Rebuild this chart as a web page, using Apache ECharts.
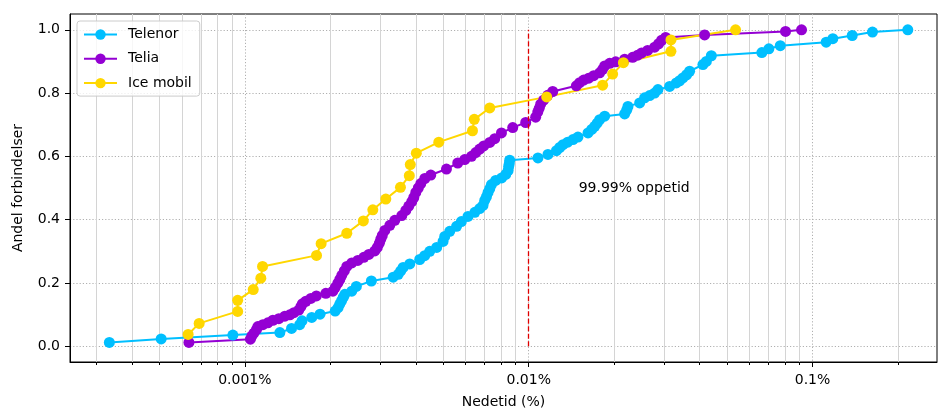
<!DOCTYPE html>
<html>
<head>
<meta charset="utf-8">
<script src="https://cdn.jsdelivr.net/npm/echarts@6/dist/echarts.min.js"></script>
<style>
  html, body { margin: 0; padding: 0; background: #fff; }
  #chart { width: 938px; height: 408px; }
</style>
</head>
<body>
<div id="chart"></div>
<script>
// Downtime (% of time) per connection and cumulative share of connections
const telenorDowntime = [0.000333, 0.000507, 0.000907, 0.001328, 0.00146, 0.00156, 0.00159, 0.00172, 0.00184, 0.00208,
  0.00213, 0.00216, 0.00219, 0.00222, 0.00225, 0.00238, 0.00247, 0.00279, 0.00333, 0.00347,
  0.00354, 0.00361, 0.00381, 0.00413, 0.0043, 0.00448, 0.00474, 0.00499, 0.00506, 0.00527,
  0.00557, 0.00579, 0.00611, 0.00646, 0.00672, 0.0069, 0.007, 0.0071, 0.00719, 0.00729,
  0.00739, 0.00765, 0.00803, 0.0083, 0.00846, 0.0085, 0.00854, 0.00857, 0.01078, 0.01169,
  0.01252, 0.01286, 0.01321, 0.01372, 0.01432, 0.01491, 0.01618, 0.01667, 0.01708, 0.01743,
  0.01778, 0.01852, 0.02178, 0.02214, 0.02237, 0.0246, 0.02561, 0.02667, 0.02778, 0.02853,
  0.03137, 0.03312, 0.03402, 0.03494, 0.036, 0.03689, 0.0411, 0.04225, 0.044, 0.06629,
  0.07017, 0.07697, 0.1117, 0.1179, 0.138, 0.1626, 0.2166];
const telenorShare = [0.012, 0.023, 0.035, 0.043, 0.056, 0.068, 0.080, 0.091, 0.101, 0.111,
  0.122, 0.133, 0.143, 0.154, 0.164, 0.174, 0.189, 0.206, 0.218, 0.227,
  0.238, 0.249, 0.260, 0.274, 0.286, 0.300, 0.312, 0.331, 0.347, 0.363,
  0.379, 0.394, 0.410, 0.423, 0.435, 0.445, 0.461, 0.473, 0.486, 0.498,
  0.511, 0.524, 0.532, 0.543, 0.555, 0.568, 0.577, 0.588, 0.595, 0.606,
  0.618, 0.628, 0.637, 0.645, 0.653, 0.661, 0.674, 0.685, 0.695, 0.705,
  0.716, 0.727, 0.734, 0.746, 0.758, 0.769, 0.785, 0.792, 0.800, 0.811,
  0.821, 0.832, 0.839, 0.848, 0.858, 0.869, 0.890, 0.900, 0.918, 0.928,
  0.940, 0.950, 0.961, 0.972, 0.982, 0.993, 1.0];

const teliaDowntime = [0.000635, 0.001046, 0.001058, 0.001076, 0.001098, 0.001111, 0.001157, 0.001205, 0.001255, 0.001317,
  0.001383, 0.00144, 0.001488, 0.001549, 0.001575, 0.001594, 0.00164, 0.001708, 0.001786, 0.001929,
  0.002042, 0.002083, 0.002126, 0.00216, 0.002195, 0.00224, 0.002286, 0.002381, 0.0025, 0.002624,
  0.002733, 0.002869, 0.002928, 0.002976, 0.003012, 0.003049, 0.003112, 0.003241, 0.003375, 0.003571,
  0.003689, 0.00378, 0.003873, 0.003937, 0.004001, 0.004083, 0.004167, 0.004304, 0.004518, 0.005131,
  0.005623, 0.00595, 0.006285, 0.006508, 0.006722, 0.006944, 0.00729, 0.007592, 0.008015, 0.008784,
  0.009759, 0.01058, 0.01076, 0.01089, 0.01102, 0.01129, 0.01167, 0.01215, 0.01472, 0.01512,
  0.01562, 0.01627, 0.01694, 0.01778, 0.01822, 0.01852, 0.01929, 0.02025, 0.02178, 0.02324,
  0.0242, 0.025, 0.02624, 0.02778, 0.02869, 0.0294, 0.03037, 0.04167, 0.08034, 0.09147];
const teliaShare = [0.012, 0.022, 0.032, 0.041, 0.052, 0.062, 0.068, 0.074, 0.082, 0.087,
  0.095, 0.099, 0.106, 0.114, 0.125, 0.134, 0.142, 0.151, 0.159, 0.167,
  0.174, 0.186, 0.199, 0.211, 0.224, 0.238, 0.252, 0.263, 0.271, 0.281,
  0.290, 0.301, 0.312, 0.325, 0.338, 0.350, 0.366, 0.382, 0.398, 0.413,
  0.429, 0.443, 0.457, 0.470, 0.486, 0.500, 0.514, 0.530, 0.541, 0.560,
  0.579, 0.590, 0.600, 0.612, 0.623, 0.633, 0.644, 0.656, 0.674, 0.691,
  0.707, 0.724, 0.740, 0.752, 0.765, 0.778, 0.793, 0.805, 0.823, 0.833,
  0.841, 0.847, 0.855, 0.864, 0.875, 0.886, 0.894, 0.899, 0.907, 0.913,
  0.920, 0.927, 0.935, 0.945, 0.956, 0.967, 0.976, 0.984, 0.995, 1.0];

const iceDowntime = [0.000631, 0.00069, 0.000943, 0.000943, 0.00107, 0.001138, 0.001154, 0.001788, 0.001856, 0.002286,
  0.002614, 0.002823, 0.003137, 0.003533, 0.003796, 0.003826, 0.004018, 0.004822, 0.006337, 0.00643,
  0.00729, 0.01157, 0.01822, 0.01976, 0.02156, 0.0317, 0.0317, 0.05356];
const iceShare = [0.037, 0.072, 0.110, 0.145, 0.179, 0.215, 0.252, 0.287, 0.324, 0.357,
  0.396, 0.431, 0.465, 0.502, 0.539, 0.574, 0.610, 0.645, 0.681, 0.717,
  0.753, 0.788, 0.825, 0.860, 0.896, 0.932, 0.968, 1.0];

const seriesNames = ['Telenor', 'Telia', 'Ice mobil'];
const seriesColors = ['#00BFFF', '#9400D3', '#FFD700'];

// Axis ticks
const xTickValues = [0.001, 0.01, 0.1];
const xTickLabels = ['0.001%', '0.01%', '0.1%'];
const yTickValues = [0, 0.2, 0.4, 0.6, 0.8, 1.0];
const xRange = [0.000242, 0.2745];
const yRange = [-0.05, 1.05];

// Reference line: 99.99 % uptime = 0.01 % downtime
const thresholdDowntime = 0.01;
const thresholdLabel = '99.99% oppetid';
const thresholdLabelPos = [0.015, 0.5];

const lg = Math.log10;

// minor ticks at 2..9 times each decade inside the range
const xMinorValues = [];
for (let e = -4; e <= 0; e++) {
  for (let m = 2; m <= 9; m++) {
    const v = m * Math.pow(10, e);
    if (v > xRange[0] && v < xRange[1]) xMinorValues.push(lg(v));
  }
}

function pairs(xs, ys) {
  return xs.map((v, i) => [lg(v), ys[i]]);
}

const FONT = 'DejaVu Sans';
const chart = echarts.init(document.getElementById('chart'), null, { renderer: 'canvas' });

const lineSeries = [
  [telenorDowntime, telenorShare],
  [teliaDowntime, teliaShare],
  [iceDowntime, iceShare]
].map((d, i) => ({
  name: seriesNames[i],
  type: 'line',
  xAxisIndex: 0,
  yAxisIndex: 0,
  data: pairs(d[0], d[1]),
  symbol: 'circle',
  symbolSize: 11,
  showSymbol: true,
  color: seriesColors[i],
  lineStyle: { width: 2, color: seriesColors[i] },
  itemStyle: { color: seriesColors[i] },
  emphasis: { disabled: true },
  animation: false
}));

// reference line and its caption
lineSeries.push({
  type: 'line',
  name: 'ref',
  data: [],
  xAxisIndex: 0,
  yAxisIndex: 0,
  silent: true,
  animation: false,
  markLine: {
    silent: true,
    symbol: 'none',
    animation: false,
    label: { show: false },
    lineStyle: { color: '#e00000', type: [5, 2.5], width: 1.3, opacity: 1 },
    emphasis: { disabled: true },
    data: [[{ coord: [lg(thresholdDowntime), 0] }, { coord: [lg(thresholdDowntime), 1] }]]
  },
  markPoint: {
    silent: true,
    animation: false,
    symbol: 'circle',
    symbolSize: 0,
    label: {
      show: true, position: 'right', distance: 0,
      formatter: thresholdLabel, color: '#000', fontFamily: FONT, fontSize: 14
    },
    data: [{ coord: [lg(thresholdLabelPos[0]), thresholdLabelPos[1]] }]
  }
});

const axisFont = { fontFamily: FONT, fontSize: 14, color: '#000' };

chart.setOption({
  animation: false,
  grid: {
    left: 70, right: 1, top: 14, bottom: 46,
    containLabel: false,
    outerBoundsMode: 'none',
    show: true, borderColor: '#000', borderWidth: 1, backgroundColor: 'transparent'
  },
  legend: {
    data: seriesNames,
    orient: 'vertical',
    left: 77, top: 21,
    padding: [6.5, 8, 6, 6],
    itemWidth: 33, itemHeight: 13, itemGap: 10.3,
    backgroundColor: 'rgba(255,255,255,0.8)',
    borderColor: '#cccccc', borderWidth: 1, borderRadius: 3,
    textStyle: { fontFamily: FONT, fontSize: 14, color: '#000', padding: [0, 0, 0, 6] }
  },
  xAxis: [
    {
      type: 'value',
      min: lg(xRange[0]), max: lg(xRange[1]),
      name: 'Nedetid (%)', nameLocation: 'middle', nameGap: 33,
      nameTextStyle: axisFont,
      axisLine: { show: true, onZero: false, lineStyle: { color: '#000', width: 1 } },
      axisTick: { show: true, length: 5, customValues: xTickValues.map(lg), lineStyle: { color: '#000' } },
      axisLabel: {
        ...axisFont, margin: 11,
        customValues: xTickValues.map(lg),
        formatter: v => {
          const i = xTickValues.findIndex(t => Math.abs(lg(t) - v) < 1e-6);
          return i >= 0 ? xTickLabels[i] : '';
        }
      },
      splitLine: { show: true, lineStyle: { color: '#b0b0b0', type: [1.2, 2], width: 1 } },
      z: 3
    },
    {
      type: 'value',
      min: lg(xRange[0]), max: lg(xRange[1]),
      position: 'bottom',
      axisLine: { show: false, onZero: false },
      axisTick: { show: true, length: 3, customValues: xMinorValues, lineStyle: { color: '#000' } },
      axisLabel: { show: false },
      splitLine: { show: true, lineStyle: { color: '#d4d4d4', type: 'solid', width: 1 } }
    }
  ],
  yAxis: {
    type: 'value',
    min: yRange[0], max: yRange[1],
    name: 'Andel forbindelser', nameLocation: 'middle', nameGap: 45,
    nameTextStyle: axisFont,
    axisLine: { show: true, onZero: false, lineStyle: { color: '#000', width: 1 } },
    axisTick: { show: true, length: 5, customValues: yTickValues, lineStyle: { color: '#000' } },
    axisLabel: { ...axisFont, margin: 10, customValues: yTickValues, formatter: v => v.toFixed(1) },
    splitLine: { show: true, lineStyle: { color: '#b0b0b0', type: [1.2, 2], width: 1 } }
  },
  series: lineSeries
});
</script>
</body>
</html>
